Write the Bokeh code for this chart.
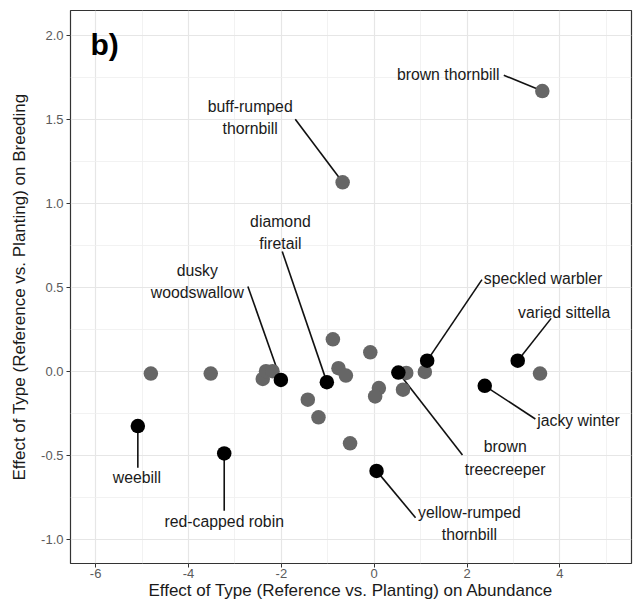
from bokeh.plotting import figure
from bokeh.models import ColumnDataSource, Range1d, FixedTicker, Label
from bokeh.embed import file_html
from bokeh.resources import INLINE
from bokeh.core.properties import value

# ---- data ----
grey_x = [3.62, -0.68, -4.81, -3.52, -2.40, -2.33, -2.19, -1.43, -1.20, -0.89,
          -0.77, -0.61, -0.085, 0.10, 0.02, -0.52, 0.69, 0.62, 1.09, 3.57]
grey_y = [1.67, 1.126, -0.014, -0.014, -0.046, 0.0, 0.0, -0.17, -0.275, 0.19,
          0.018, -0.026, 0.113, -0.10, -0.15, -0.43, -0.010, -0.11, -0.004, -0.014]

black_names = ["weebill", "red-capped robin", "dusky woodswallow", "diamond firetail",
               "brown treecreeper", "speckled warbler", "varied sittella",
               "jacky winter", "yellow-rumped thornbill"]
black_x = [-5.09, -3.23, -2.01, -1.02, 0.52, 1.14, 3.09, 2.38, 0.05]
black_y = [-0.327, -0.49, -0.052, -0.065, -0.008, 0.063, 0.063, -0.087, -0.594]

# labelled grey points
grey_label_names = ["brown thornbill", "buff-rumped thornbill"]
grey_label_x = [3.62, -0.68]
grey_label_y = [1.67, 1.126]

# label texts (as displayed)
label_text = {
    "brown thornbill": "brown thornbill",
    "buff-rumped thornbill": "buff-rumped\nthornbill",
    "weebill": "weebill",
    "red-capped robin": "red-capped robin",
    "dusky woodswallow": "dusky\nwoodswallow",
    "diamond firetail": "diamond\nfiretail",
    "brown treecreeper": "brown\ntreecreeper",
    "speckled warbler": "speckled warbler",
    "varied sittella": "varied sittella",
    "jacky winter": "jacky winter",
    "yellow-rumped thornbill": "yellow-rumped\nthornbill",
}

x_ticks = [-6, -4, -2, 0, 2, 4]
y_ticks = [-1.0, -0.5, 0.0, 0.5, 1.0, 1.5, 2.0]

# ---- label layout (positions in data units) ----
# name: (text x, text y, align, leader start x, leader start y)
label_layout = {
    "brown thornbill": (2.70, 1.770, "right", 2.79, 1.764),
    "buff-rumped thornbill": (-2.67, 1.514, "center", -1.70, 1.502),
    "diamond firetail": (-2.02, 0.825, "center", -1.98, 0.713),
    "dusky woodswallow": (-3.81, 0.534, "center", -2.72, 0.505),
    "weebill": (-5.11, -0.635, "center", -5.09, -0.576),
    "red-capped robin": (-3.23, -0.897, "center", -3.23, -0.831),
    "speckled warbler": (2.36, 0.552, "left", 2.32, 0.546),
    "varied sittella": (4.09, 0.350, "center", 3.81, 0.315),
    "jacky winter": (3.51, -0.295, "left", 3.47, -0.285),
    "brown treecreeper": (2.82, -0.517, "center", 1.90, -0.499),
    "yellow-rumped thornbill": (2.05, -0.909, "center", 0.89, -0.873),
}

FONT = "Liberation Sans"

p = figure(width=633, height=602, output_backend="svg", toolbar_location=None,
           x_range=Range1d(-6.54, 5.54), y_range=Range1d(-1.146, 2.15),
           min_border_left=70, min_border_right=2, min_border_top=10,
           min_border_bottom=36)
p.background_fill_color = "white"
p.border_fill_color = "white"
p.outline_line_color = "#333333"
p.outline_line_width = 1.2

# grid
p.xaxis.ticker = FixedTicker(ticks=x_ticks, minor_ticks=[-5, -3, -1, 1, 3, 5])
p.yaxis.ticker = FixedTicker(ticks=y_ticks,
                             minor_ticks=[-0.75, -0.25, 0.25, 0.75, 1.25, 1.75])
for g in (p.xgrid, p.ygrid):
    g.grid_line_color = "#e6e6e6"
    g.grid_line_width = 1.2
    g.minor_grid_line_color = "#efefef"
    g.minor_grid_line_width = 0.8

# axes
for ax in (p.xaxis, p.yaxis):
    ax.axis_line_color = None
    ax.major_tick_line_color = "#333333"
    ax.major_tick_in = 0
    ax.major_tick_out = 4
    ax.minor_tick_line_color = None
    ax.major_label_text_font = FONT
    ax.major_label_text_font_size = "13px"
    ax.major_label_text_color = "#5a5a5a"
    ax.axis_label_text_font = FONT
    ax.axis_label_text_font_size = "17px"
    ax.axis_label_text_font_style = "normal"
    ax.axis_label_text_color = "#1a1a1a"
    ax.major_label_standoff = 3
p.xaxis.major_label_standoff = 1
p.xaxis.axis_label_standoff = 0
p.yaxis.axis_label_standoff = 9
p.xaxis.major_label_overrides = {t: str(t) for t in x_ticks}
p.yaxis.major_label_overrides = {t: f"{t:.1f}" for t in y_ticks}
p.xaxis.axis_label = "Effect of Type (Reference vs. Planting) on Abundance"
p.yaxis.axis_label = "Effect of Type (Reference vs. Planting) on Breeding"

# leader lines (from label to point)
all_x = dict(zip(black_names + grey_label_names, black_x + grey_label_x))
all_y = dict(zip(black_names + grey_label_names, black_y + grey_label_y))
seg = dict(x0=[], y0=[], x1=[], y1=[])
for name, (tx, ty, al, lx, ly) in label_layout.items():
    seg["x0"].append(lx)
    seg["y0"].append(ly)
    seg["x1"].append(all_x[name])
    seg["y1"].append(all_y[name])
p.segment("x0", "y0", "x1", "y1", source=ColumnDataSource(seg),
          line_color="#111111", line_width=1.6)

# points
p.scatter(grey_x, grey_y, size=14.5, fill_color="#666666", line_color=None)
p.scatter(black_x, black_y, size=14.5, fill_color="#000000", line_color=None)

# labels
for align in ("left", "center", "right"):
    d = dict(x=[], y=[], t=[])
    for name, (tx, ty, al, lx, ly) in label_layout.items():
        if al == align:
            d["x"].append(tx)
            d["y"].append(ty)
            d["t"].append(label_text[name])
    p.text("x", "y", text="t", source=ColumnDataSource(d),
           text_font=value(FONT), text_font_size="15.8px",
           text_color="#1a1a1a", text_align=align, text_baseline="middle",
           text_line_height=1.3)

# panel tag
p.add_layout(Label(x=-6.11, y=1.95, text="b)", text_font=FONT,
                   text_font_size="30px", text_font_style="bold",
                   text_color="black", text_baseline="middle", text_align="left"))

open("out.html", "w").write(file_html(p, INLINE))
